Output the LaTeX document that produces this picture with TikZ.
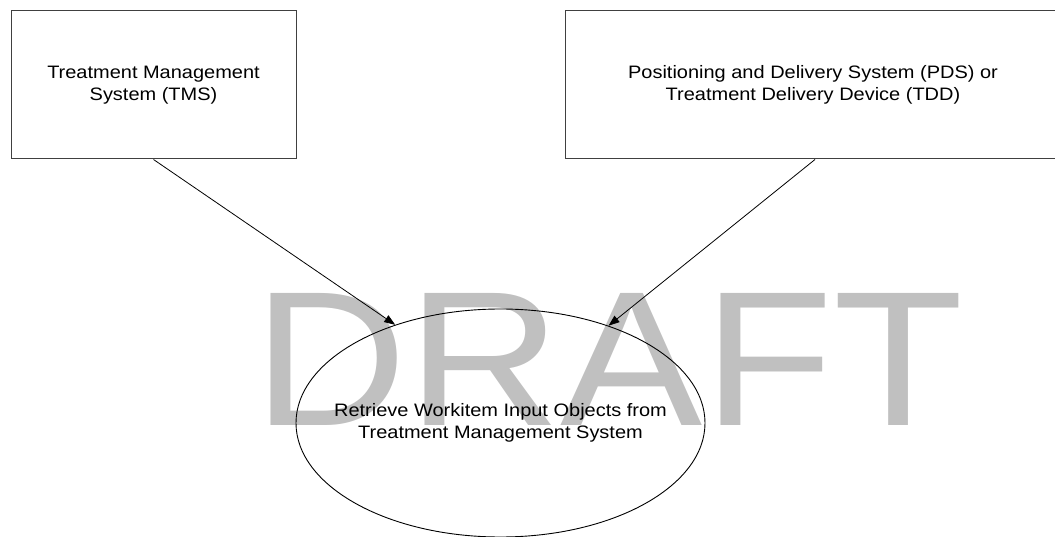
\documentclass[tikz,border=0pt]{standalone}
\usepackage{graphicx}
\usepackage{fontspec}
\setmainfont{Liberation Sans}
\usetikzlibrary{arrows.meta,shapes.geometric}
\definecolor{wm}{RGB}{192,192,192}
\newcommand\sx[1]{\scalebox{1.11}[1]{#1}}
\begin{document}
\begin{tikzpicture}[x=1pt,y=-1pt,
  lbl/.style={font=\fontsize{18}{21.5}\selectfont, align=center, text=black},
  box/.style={draw=black!75, line width=1pt, rectangle, inner sep=0pt, lbl},
  usecase/.style={draw=black, line width=0.9pt, ellipse, inner xsep=-40pt, inner ysep=0pt,
    minimum width=409pt, minimum height=228pt, lbl},
  flow/.style={draw=black, line width=0.8pt, -{Triangle[length=11pt,width=8pt]}}]
\useasboundingbox (0,0) rectangle (1055,537);
\node[text=wm, font=\fontsize{192}{194}\selectfont, inner sep=0pt, anchor=base west]
  (W) at (253,425) {\scalebox{1.11}[1]{DRAFT}};
\node[box, minimum width=285pt, minimum height=148pt] (T) at (153.5,85)
  {\sx{Treatment Management}\\\sx{System (TMS)}};
\node[box, minimum width=496pt, minimum height=148pt] (P) at (813,85)
  {\sx{Positioning and Delivery System (PDS) or}\\\sx{Treatment Delivery Device (TDD)}};
\node[usecase] (E) at (500.5,423)
  {\sx{Retrieve Workitem Input Objects from}\\\sx{Treatment Management System}};
\draw[flow] (T.south) -- (E.137.8);
\draw[flow] ([xshift=2pt]P.south) -- (E.42.2);
\end{tikzpicture}
\end{document}
